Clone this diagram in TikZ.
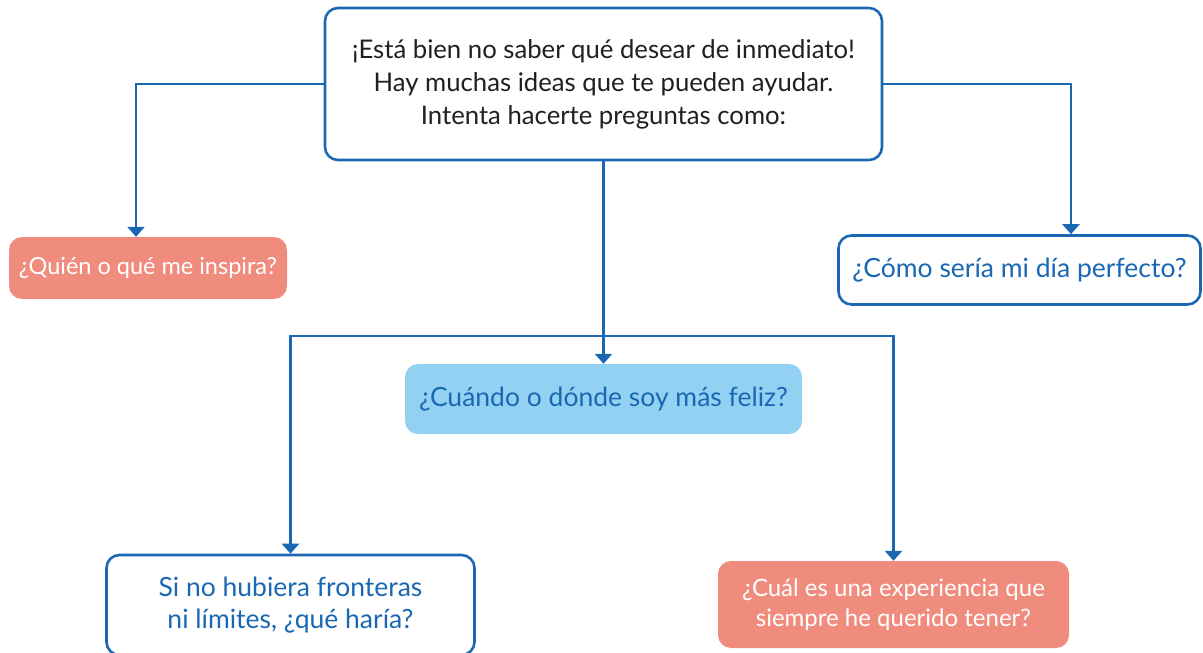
\documentclass[tikz,border=0pt]{standalone}
\usepackage{fontspec}
\setmainfont{Lato}
\usetikzlibrary{arrows.meta}
\definecolor{cblue}{HTML}{1A68B3}
\definecolor{csalmon}{HTML}{F08C7E}
\definecolor{clight}{HTML}{92D1F1}
\definecolor{ctext}{HTML}{231F20}
\tikzset{
  box/.style={rounded corners=13pt, align=center, inner sep=0pt, font=\fontsize{26.5}{32}\selectfont},
  whitebox/.style={box, draw=cblue, line width=2.6pt, fill=white, text=cblue},
  salmonbox/.style={box, fill=csalmon, text=white},
  lightbox/.style={box, fill=clight, text=cblue},
  conn/.style={draw=cblue, line width=2.6pt, -{Triangle[width=17pt,length=10pt]}}
}
\begin{document}
\begin{tikzpicture}[x=1pt,y=-1pt]
\useasboundingbox (0,0) rectangle (1203,653);
\clip (0,0) rectangle (1203,653);
\node[whitebox, text=ctext, font=\fontsize{25.7}{33}\selectfont, minimum width=557pt, minimum height=152pt] (top) at (603.5,84)
  {¡Está bien no saber qué desear de inmediato!\\Hay muchas ideas que te pueden ayudar.\\Intenta hacerte preguntas como:};
\node[salmonbox, font=\fontsize{23.5}{30}\selectfont, minimum width=278pt, minimum height=62pt] (left) at (148,268) {¿Quién o qué me inspira?};
\node[whitebox, minimum width=362pt, minimum height=69pt] (right) at (1019.5,270) {¿Cómo sería mi día perfecto?};
\node[lightbox, minimum width=397pt, minimum height=70pt] (mid) at (603.5,399) {¿Cuándo o dónde soy más feliz?};
\node[whitebox, minimum width=368pt, minimum height=100pt] (bl) at (290.5,605) {Si no hubiera fronteras\\ni límites, ¿qué haría?};
\node[salmonbox, font=\fontsize{24}{30}\selectfont, minimum width=351pt, minimum height=87pt] (br) at (893.5,604.5) {¿Cuál es una experiencia que\\siempre he querido tener?};
\coordinate (j) at (603.5,336);
\draw[conn] (top.west) -| ([xshift=-12pt]left.north);
\draw[conn] (top.east) -| ([xshift=51.5pt]right.north);
\draw[conn] (top.south) -- (mid.north);
\draw[conn] (j) -| (bl.north);
\draw[conn] (j) -| (br.north);
\end{tikzpicture}
\end{document}
